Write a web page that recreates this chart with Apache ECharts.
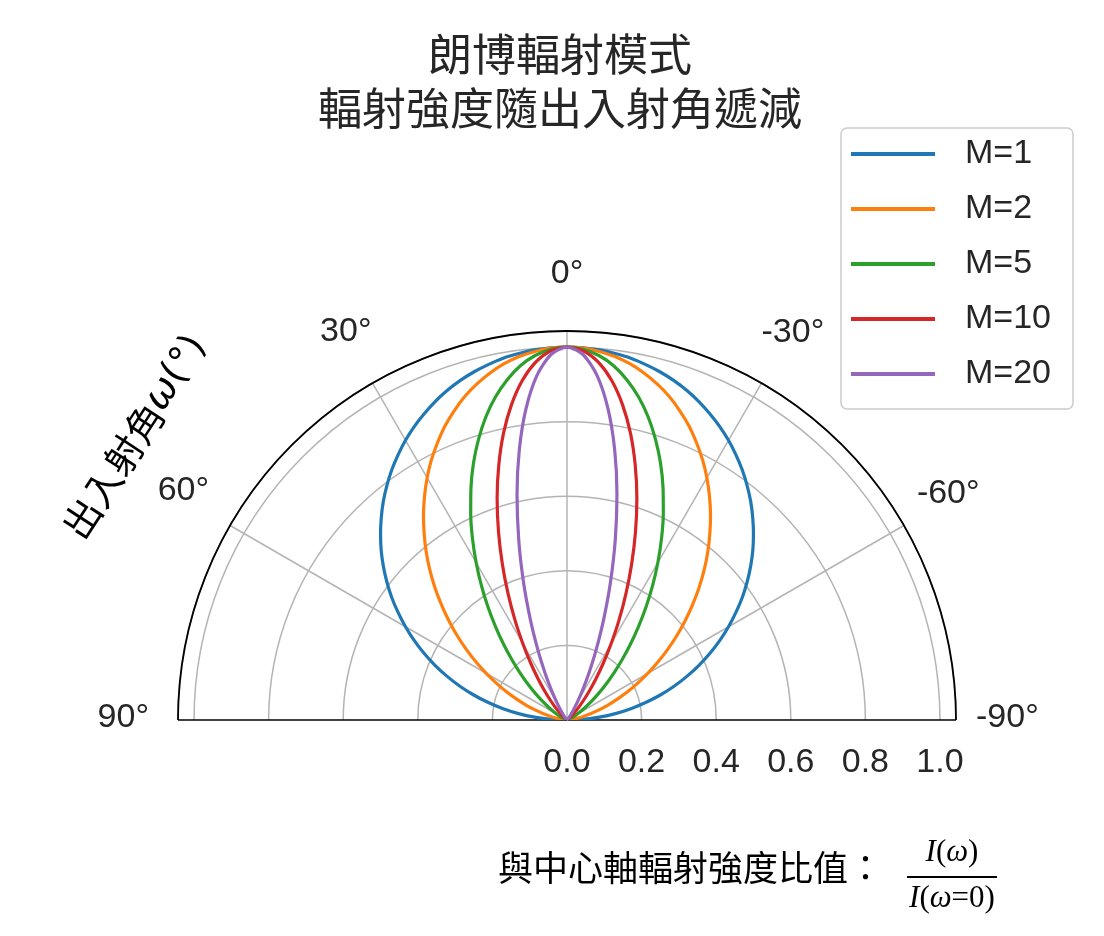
<!DOCTYPE html>
<html>
<head>
<meta charset="utf-8">
<script src="https://cdn.jsdelivr.net/npm/echarts@6/dist/echarts.min.js"></script>
<style>html,body{margin:0;padding:0;background:#fff}#c{width:1104px;height:936px}</style>
</head>
<body>
<div id="c"></div>
<script>
// Angles (degrees) at which the curves were read
const angles = [-90,-87.5,-85,-82.5,-80,-77.5,-75,-72.5,-70,-67.5,-65,-62.5,-60,-57.5,-55,-52.5,-50,-47.5,-45,-42.5,-40,-37.5,-35,-32.5,-30,-27.5,-25,-22.5,-20,-17.5,-15,-12.5,-10,-7.5,-5,-2.5,0,2.5,5,7.5,10,12.5,15,17.5,20,22.5,25,27.5,30,32.5,35,37.5,40,42.5,45,47.5,50,52.5,55,57.5,60,62.5,65,67.5,70,72.5,75,77.5,80,82.5,85,87.5,90];
// Relative intensity I(ω)/I(0) read for each curve
const m1  = [0,0.044,0.087,0.131,0.174,0.216,0.259,0.301,0.342,0.383,0.423,0.462,0.5,0.537,0.574,0.609,0.643,0.676,0.707,0.737,0.766,0.793,0.819,0.843,0.866,0.887,0.906,0.924,0.940,0.954,0.966,0.976,0.985,0.991,0.996,0.999,1,0.999,0.996,0.991,0.985,0.976,0.966,0.954,0.940,0.924,0.906,0.887,0.866,0.843,0.819,0.793,0.766,0.737,0.707,0.676,0.643,0.609,0.574,0.537,0.5,0.462,0.423,0.383,0.342,0.301,0.259,0.216,0.174,0.131,0.087,0.044,0];
const m2  = [0,0.002,0.008,0.017,0.030,0.047,0.067,0.090,0.117,0.146,0.179,0.213,0.25,0.289,0.329,0.371,0.413,0.456,0.5,0.544,0.587,0.629,0.671,0.711,0.75,0.787,0.821,0.854,0.883,0.910,0.933,0.953,0.970,0.983,0.992,0.998,1,0.998,0.992,0.983,0.970,0.953,0.933,0.910,0.883,0.854,0.821,0.787,0.75,0.711,0.671,0.629,0.587,0.544,0.5,0.456,0.413,0.371,0.329,0.289,0.25,0.213,0.179,0.146,0.117,0.090,0.067,0.047,0.030,0.017,0.008,0.002,0];
const m5  = [0,0,0,0,0.0002,0.0005,0.001,0.0025,0.005,0.008,0.013,0.021,0.031,0.045,0.062,0.084,0.110,0.141,0.177,0.218,0.264,0.314,0.369,0.427,0.487,0.549,0.611,0.673,0.733,0.789,0.841,0.887,0.926,0.958,0.981,0.995,1,0.995,0.981,0.958,0.926,0.887,0.841,0.789,0.733,0.673,0.611,0.549,0.487,0.427,0.369,0.314,0.264,0.218,0.177,0.141,0.110,0.084,0.062,0.045,0.031,0.021,0.013,0.008,0.005,0.0025,0.001,0.0005,0.0002,0,0,0,0];
const m10 = [0,0,0,0,0,0,0,0,0,0.0001,0.0002,0.0004,0.001,0.002,0.004,0.007,0.012,0.020,0.031,0.047,0.070,0.099,0.136,0.182,0.237,0.302,0.374,0.453,0.537,0.623,0.707,0.787,0.858,0.918,0.963,0.991,1,0.991,0.963,0.918,0.858,0.787,0.707,0.623,0.537,0.453,0.374,0.302,0.237,0.182,0.136,0.099,0.070,0.047,0.031,0.020,0.012,0.007,0.004,0.002,0.001,0.0004,0.0002,0.0001,0,0,0,0,0,0,0,0,0];
const m20 = [0,0,0,0,0,0,0,0,0,0,0,0,0,0,0,0.00005,0.0001,0.0004,0.001,0.002,0.005,0.010,0.019,0.033,0.056,0.091,0.140,0.205,0.288,0.388,0.500,0.619,0.736,0.842,0.927,0.981,1,0.981,0.927,0.842,0.736,0.619,0.500,0.388,0.288,0.205,0.140,0.091,0.056,0.033,0.019,0.010,0.005,0.002,0.001,0.0004,0.0001,0.00005,0,0,0,0,0,0,0,0,0,0,0,0,0,0,0];
const seriesNames = ['M=1','M=2','M=5','M=10','M=20'];
const seriesValues = [m1, m2, m5, m10, m20];
const colors = ['#1f77b4','#ff7f0e','#2ca02c','#d62728','#9467bd'];
const radiusTicks = [0, 0.2, 0.4, 0.6, 0.8, 1.0];
const angleTicks = [-90, -60, -30, 0, 30, 60, 90];

const titleText = '朗博輻射模式\n輻射強度隨出入射角遞減';
const latin = "'Liberation Sans', 'Noto Sans CJK TC', sans-serif";
const cjk = "'Noto Sans CJK TC', 'Liberation Sans', sans-serif";
const serif = "'Liberation Serif', serif";
const txt = '#262626';

const angleKey = {'-90':'n90','-60':'n60','-30':'n30','0':'z0','30':'p30','60':'p60','90':'p90'};
const lbl = (pad) => ({fontSize:34, lineHeight:34, fontFamily:latin, color:txt, padding:pad});
const angleRich = {
  z0: lbl([0,0,80,0]),
  p30: lbl([0,1,69,0]),
  n30: lbl([0,0,66,0]),
  p60: lbl([0,21,35,0]),
  n60: lbl([0,0,30,13]),
  p90: lbl([0,29,4,0]),
  n90: lbl([0,0,4,20])
};

const chart = echarts.init(document.getElementById('c'), null, {renderer:'canvas'});
chart.setOption({
  animation: false,
  backgroundColor: '#fff',
  color: colors,
  title: {
    text: titleText, left: 555, textAlign: 'center', top: 22,
    textStyle: {fontSize: 44, lineHeight: 54, fontWeight: 'normal', color: txt, fontFamily: cjk}
  },
  legend: {
    orient: 'vertical', left: 841, top: 128,
    data: seriesNames,
    icon: 'rect', itemWidth: 84, itemHeight: 4, itemGap: 21,
    padding: [9, 22, 18, 10],
    borderColor: '#cccccc', borderWidth: 1.5, borderRadius: 6,
    textStyle: {fontSize: 34, lineHeight: 34, color: txt, fontFamily: latin, padding: [0,0,0,25]}
  },
  polar: {center: [567, 720], radius: 389},
  angleAxis: {
    type: 'value', min: -90, max: 90, interval: 30,
    startAngle: 0, endAngle: 180, clockwise: false,
    axisLine: {show: true, lineStyle: {color: '#000', width: 1.8}},
    axisTick: {show: false},
    splitLine: {show: true, lineStyle: {color: ['#000','#b4b4b4','#b4b4b4','#b4b4b4','#b4b4b4','#b4b4b4','#000'], width: 1.5}},
    axisLabel: {
      margin: 0, fontSize: 34, fontFamily: latin, color: txt,
      formatter: (v) => '{' + angleKey[String(v)] + '|' + v + '°}',
      rich: angleRich
    }
  },
  radiusAxis: {
    type: 'value', min: 0, max: 1.043, interval: 0.2,
    axisLine: {show: false}, axisTick: {show: false},
    splitLine: {show: true, lineStyle: {color: '#b4b4b4', width: 1.5}},
    axisLabel: {
      showMaxLabel: false, margin: -26, verticalAlign: 'top',
      fontSize: 34, fontFamily: latin, color: txt,
      formatter: (v) => v.toFixed(1)
    }
  },
  series: seriesNames.map((n, k) => ({
    name: n, type: 'line', coordinateSystem: 'polar',
    data: angles.map((a, i) => [seriesValues[k][i], a]),
    showSymbol: false, smooth: 0.25, clip: false,
    lineStyle: {width: 3.2, color: colors[k]}, z: 3 + k
  })),
  graphic: [
    {
      type: 'text', x: 135, y: 437, rotation: 57 * Math.PI / 180,
      style: {
        text: '出入射角{w|ω}{d|(°)}', fontSize: 38, fontFamily: cjk, fill: '#000',
        align: 'center', verticalAlign: 'middle',
        rich: {
          w: {fontSize: 38, fontStyle: 'italic', fontFamily: "'DejaVu Sans', sans-serif", fill: '#000'},
          d: {fontSize: 38, fontFamily: "'DejaVu Sans', sans-serif", fill: '#000'}
        }
      }
    },
    {
      type: 'text', x: 498, y: 868,
      style: {text: '與中心軸輻射強度比值：', fontSize: 35, fontFamily: cjk, fill: '#000', align: 'left', verticalAlign: 'middle'}
    },
    {
      type: 'text', x: 952, y: 853,
      style: {
        text: '{i|I}{u|(}{i|ω}{u|)}', align: 'center', verticalAlign: 'middle',
        rich: {
          i: {fontSize: 31, fontStyle: 'italic', fontFamily: serif, fill: '#000'},
          u: {fontSize: 31, fontFamily: serif, fill: '#000'}
        }
      }
    },
    {type: 'line', shape: {x1: 907, y1: 877, x2: 997, y2: 877}, style: {stroke: '#000', lineWidth: 2}},
    {
      type: 'text', x: 952, y: 899,
      style: {
        text: '{i|I}{u|(}{i|ω}{u|=0)}', align: 'center', verticalAlign: 'middle',
        rich: {
          i: {fontSize: 31, fontStyle: 'italic', fontFamily: serif, fill: '#000'},
          u: {fontSize: 31, fontFamily: serif, fill: '#000'}
        }
      }
    }
  ]
});
</script>
</body>
</html>
